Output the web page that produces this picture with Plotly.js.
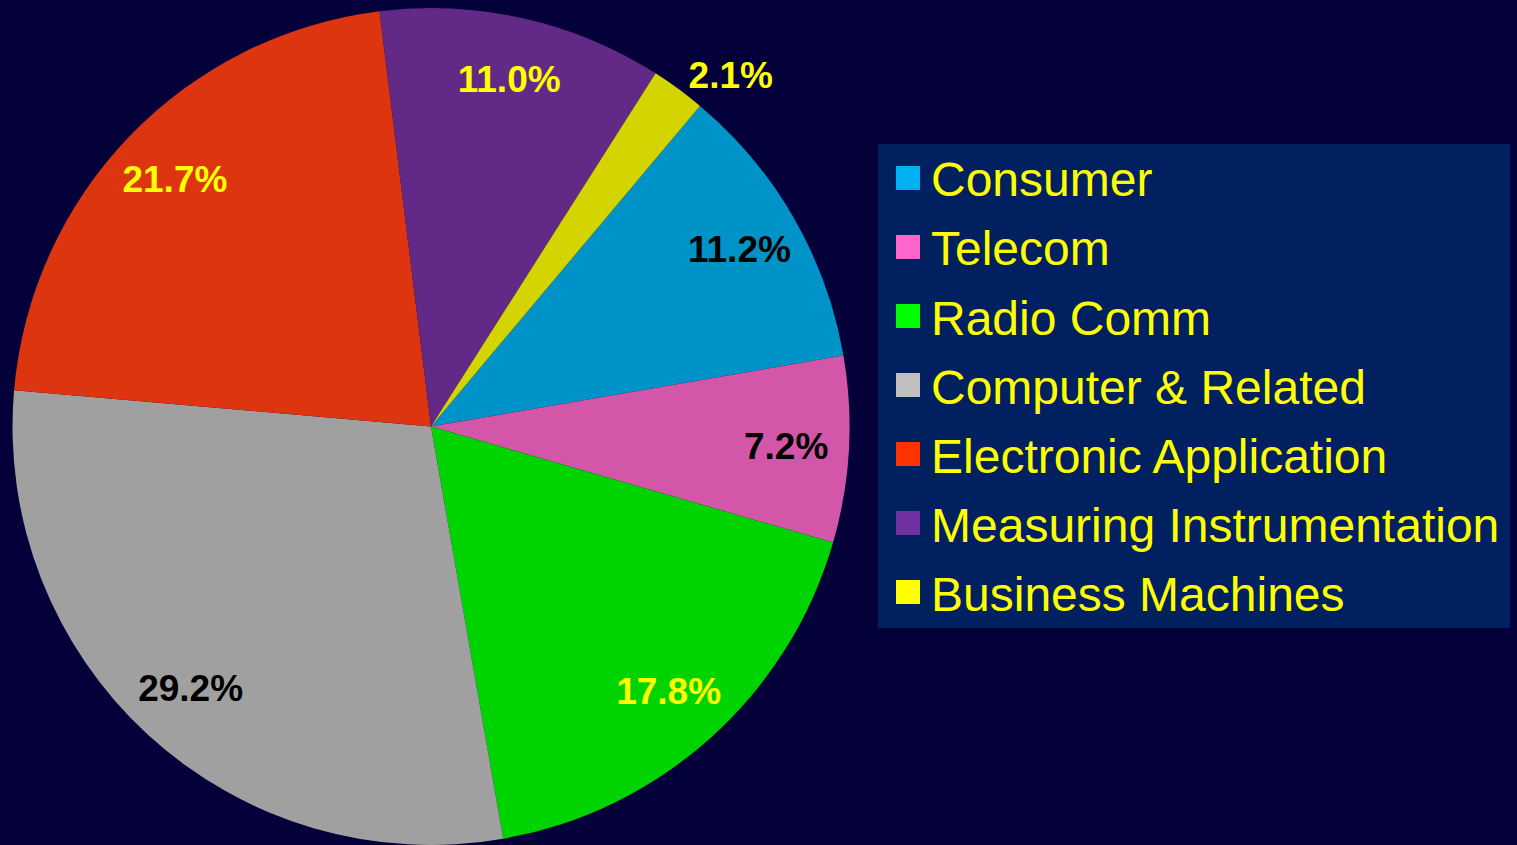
<!DOCTYPE html>
<html>
<head>
<meta charset="utf-8">
<script src="https://cdn.plot.ly/plotly-3.0.1.min.js"></script>
<style>
  html, body { margin: 0; padding: 0; background: #03003a; }
  #chart { width: 1517px; height: 845px; }
</style>
</head>
<body>
<div id="chart"></div>
<script>
// ---- data ----
const categories = ['Consumer', 'Telecom', 'Radio Comm', 'Computer & Related',
                    'Electronic Application', 'Measuring Instrumentation', 'Business Machines'];
const shares = [11.2, 7.2, 17.8, 29.2, 21.7, 11.0, 2.1];

// ---- styles ----
const sliceColors  = ['#0093c8', '#d456a8', '#00d400', '#a0a0a0', '#dc3510', '#622a86', '#d4d400'];
const legendColors = ['#00b0f0', '#ff66cc', '#00ff00', '#c0c0c0', '#ff3300', '#7030a0', '#ffff00'];
const labelColors  = ['#000000', '#000000', '#ffff00', '#000000', '#ffff00', '#ffff00', '#ffff00'];
const labelPlaces  = ['inside', 'inside', 'inside', 'inside', 'inside', 'inside', 'outside'];

const W = 1517, H = 845;
const M = { l: 0, r: 0, t: 8, b: 0 };
const plotW = W - M.l - M.r, plotH = H - M.t - M.b;
const px = v => (v - M.l) / plotW;
const py = v => 1 - (v - M.t) / plotH;

const bg = '#03003a';
const fontFamily = '"Liberation Sans", Arial, sans-serif';

const pieDomain = { x: [0, 862 / W], y: [0, 1] };

const slices = {
  type: 'pie',
  labels: categories,
  values: shares,
  sort: false,
  direction: 'clockwise',
  rotation: 40,
  marker: { colors: sliceColors, line: { width: 0 } },
  textinfo: 'none',
  hoverinfo: 'label+value',
  showlegend: false,
  domain: pieDomain
};

const labelRing = {
  type: 'pie',
  labels: categories,
  values: shares,
  sort: false,
  direction: 'clockwise',
  rotation: 40,
  hole: 0.7,
  marker: { colors: categories.map(() => 'rgba(0,0,0,0)'), line: { width: 0 } },
  texttemplate: '%{value:.1f}%',
  textposition: labelPlaces,
  insidetextorientation: 'horizontal',
  insidetextfont: { family: fontFamily, size: 37, weight: 'bold', color: labelColors },
  outsidetextfont: { family: fontFamily, size: 37, weight: 'bold', color: '#ffff00' },
  hoverinfo: 'skip',
  showlegend: false,
  domain: pieDomain
};

// ---- legend (drawn from the category list) ----
const shapes = [{
  type: 'rect', xref: 'paper', yref: 'paper',
  x0: px(878), x1: px(1510), y0: py(628), y1: py(144),
  fillcolor: '#002060', line: { width: 0 }, layer: 'below'
}];
const annotations = [];
const legendTop = 178, legendStep = 69;
categories.forEach((name, i) => {
  const cy = legendTop + i * legendStep;
  shapes.push({
    type: 'rect', xref: 'paper', yref: 'paper',
    x0: px(896), x1: px(920), y0: py(cy + 12), y1: py(cy - 12),
    fillcolor: legendColors[i], line: { width: 0 }
  });
  annotations.push({
    xref: 'paper', yref: 'paper', x: px(929), y: py(cy + 2),
    xanchor: 'left', yanchor: 'middle', showarrow: false,
    text: name,
    font: { family: fontFamily, size: 48, color: '#ffff00' }
  });
});

const layout = {
  width: W, height: H,
  margin: M,
  paper_bgcolor: bg,
  plot_bgcolor: bg,
  showlegend: false,
  shapes: shapes,
  annotations: annotations
};

Plotly.newPlot('chart', [slices, labelRing], layout, { displayModeBar: false, staticPlot: true });
</script>
</body>
</html>
